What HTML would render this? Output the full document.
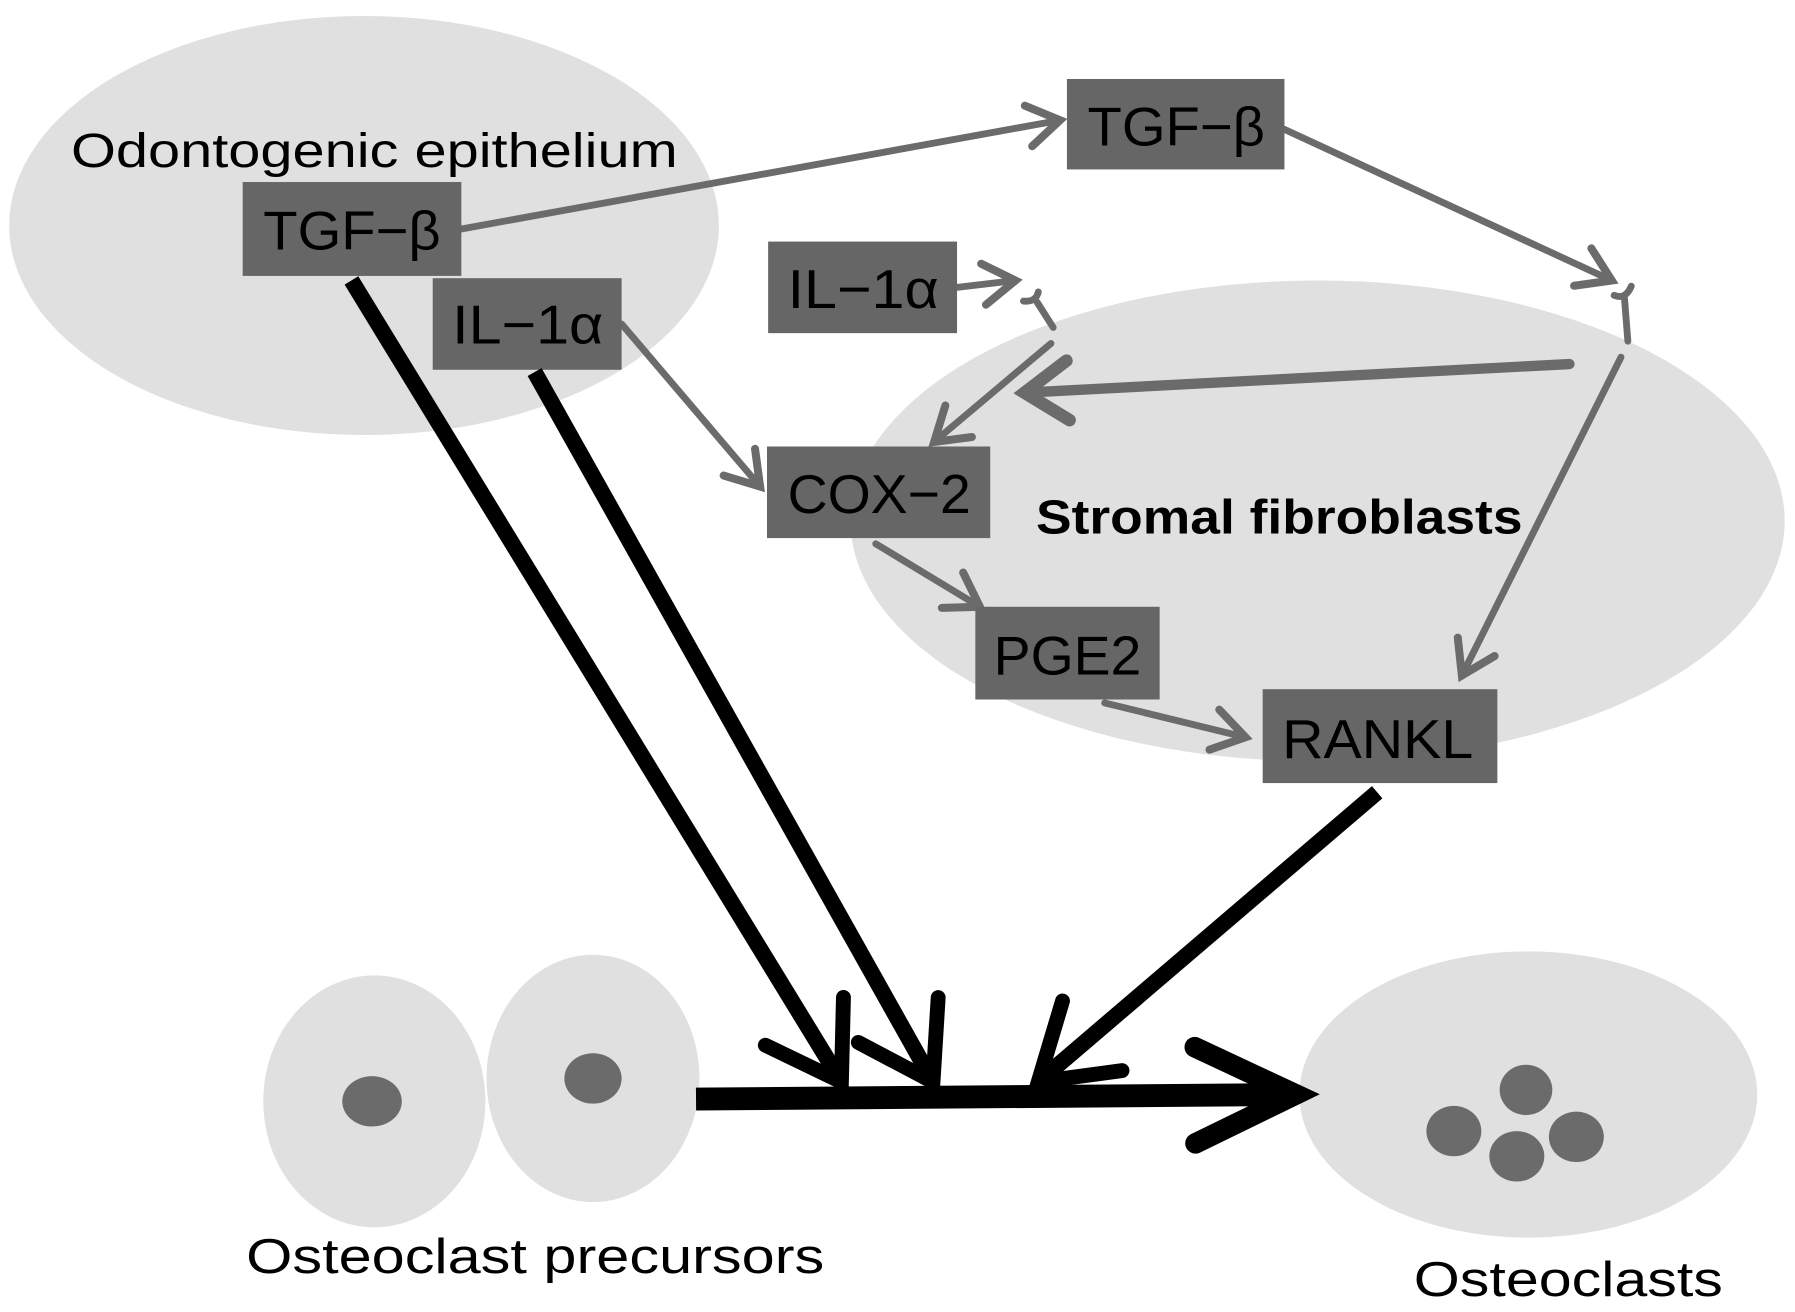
<!DOCTYPE html>
<html><head><meta charset="utf-8"><style>
html,body{margin:0;padding:0;background:#fff}
svg{display:block}
text{font-family:"Liberation Sans",sans-serif;fill:#000}
</style></head><body>
<svg width="1795" height="1312" viewBox="0 0 1568 1146" preserveAspectRatio="none">
<defs>
<marker id="ga" markerUnits="userSpaceOnUse" viewBox="-40 -30 50 60" refX="0" refY="0" markerWidth="50" markerHeight="60" orient="auto" overflow="visible">
<path d="M-28,-18 L0,0 L-28,18" fill="none" stroke="#6b6b6b" stroke-width="7" stroke-linecap="round" stroke-linejoin="miter"/>
</marker>
<marker id="gb" markerUnits="userSpaceOnUse" viewBox="-60 -40 70 80" refX="0" refY="0" markerWidth="70" markerHeight="80" orient="auto" overflow="visible">
<path d="M-38,-26 L0,0 L-38,26" fill="none" stroke="#6b6b6b" stroke-width="11" stroke-linecap="round"/>
</marker>
<marker id="ba" markerUnits="userSpaceOnUse" viewBox="-90 -60 100 120" refX="0" refY="0" markerWidth="100" markerHeight="120" orient="auto" overflow="visible">
<path d="M-62,-40 L0,0 L-62,40" fill="none" stroke="#000" stroke-width="13" stroke-linecap="round"/>
</marker>
<marker id="bb" markerUnits="userSpaceOnUse" viewBox="-110 -60 120 120" refX="0" refY="0" markerWidth="120" markerHeight="120" orient="auto" overflow="visible">
<path d="M-88,-42 L0,0 L-88,42" fill="none" stroke="#000" stroke-width="18" stroke-linecap="round"/>
</marker>
</defs>
<ellipse cx="318" cy="197" rx="310" ry="183" fill="#e0e0e0"/>
<ellipse cx="1151" cy="455" rx="408" ry="210" fill="#e0e0e0"/>
<ellipse cx="327" cy="962" rx="97" ry="110" fill="#e0e0e0"/>
<ellipse cx="518" cy="942" rx="93" ry="108" fill="#e0e0e0"/>
<ellipse cx="325" cy="962" rx="26" ry="22" fill="#6b6b6b"/>
<ellipse cx="518" cy="942" rx="25" ry="22" fill="#6b6b6b"/>
<ellipse cx="1335" cy="956" rx="200" ry="125" fill="#e0e0e0"/>
<ellipse cx="1333" cy="952" rx="23" ry="22" fill="#6b6b6b"/>
<ellipse cx="1270" cy="988" rx="24" ry="22" fill="#6b6b6b"/>
<ellipse cx="1377" cy="993" rx="24" ry="22" fill="#6b6b6b"/>
<ellipse cx="1325" cy="1010" rx="24" ry="22" fill="#6b6b6b"/>

<text x="62" y="146" font-size="42" textLength="530" lengthAdjust="spacingAndGlyphs">Odontogenic epithelium</text>
<text x="905" y="466" font-size="42" font-weight="bold" textLength="425" lengthAdjust="spacingAndGlyphs">Stromal fibroblasts</text>
<text x="215" y="1112" font-size="43" textLength="505" lengthAdjust="spacingAndGlyphs">Osteoclast precursors</text>
<text x="1235" y="1132" font-size="43" textLength="270" lengthAdjust="spacingAndGlyphs">Osteoclasts</text>

<g stroke="#6b6b6b" stroke-width="6" fill="none" stroke-linecap="round">
<line x1="403" y1="200" x2="926" y2="105" marker-end="url(#ga)"/>
<line x1="1122" y1="113" x2="1408" y2="245" marker-end="url(#ga)"/>
<line x1="836" y1="251" x2="887" y2="245" marker-end="url(#ga)"/>
<line x1="543" y1="283" x2="664" y2="425" marker-end="url(#ga)"/>
<line x1="918" y1="300" x2="816" y2="386" marker-end="url(#ga)"/>
<line x1="765" y1="475" x2="856" y2="530" marker-end="url(#ga)"/>
<line x1="965" y1="614" x2="1088" y2="644" marker-end="url(#ga)"/>
<line x1="1416" y1="312" x2="1277" y2="590" marker-end="url(#ga)"/>
<line x1="1371" y1="318" x2="895" y2="343" stroke-width="9" marker-end="url(#gb)"/>
<path d="M1410,258 Q1420,262 1425,250" stroke-width="6"/>
<line x1="1419" y1="260" x2="1422" y2="298" stroke-width="6"/>
<path d="M894,263 Q905,264 907,255" stroke-width="6"/>
<line x1="906" y1="264" x2="920" y2="286" stroke-width="6"/>
</g>

<g fill="#666">
<rect x="932" y="69" width="190" height="79"/>
<rect x="212" y="159" width="191" height="82"/>
<rect x="378" y="243" width="165" height="80"/>
<rect x="671" y="211" width="165" height="80"/>
<rect x="670" y="390" width="195" height="80"/>
<rect x="852" y="530" width="161" height="81"/>
<rect x="1103" y="602" width="205" height="82"/>
</g>
<g font-size="48" lengthAdjust="spacingAndGlyphs">
<text x="950" y="127" textLength="155" lengthAdjust="spacingAndGlyphs">TGF−β</text>
<text x="230" y="218" textLength="155" lengthAdjust="spacingAndGlyphs">TGF−β</text>
<text x="395" y="300" textLength="132" lengthAdjust="spacingAndGlyphs">IL−1α</text>
<text x="688" y="269" textLength="132" lengthAdjust="spacingAndGlyphs">IL−1α</text>
<text x="688" y="448" textLength="160" lengthAdjust="spacingAndGlyphs">COX−2</text>
<text x="868" y="589" textLength="129" lengthAdjust="spacingAndGlyphs">PGE2</text>
<text x="1120" y="662" textLength="167" lengthAdjust="spacingAndGlyphs">RANKL</text>
</g>

<g stroke="#000" stroke-width="14" fill="none" stroke-linecap="butt">
<line x1="307" y1="245" x2="735" y2="945" marker-end="url(#ba)"/>
<line x1="467" y1="325" x2="815" y2="945" marker-end="url(#ba)"/>
<line x1="1203" y1="692" x2="907" y2="945" marker-end="url(#ba)"/>
<line x1="608" y1="960" x2="1132" y2="956" stroke-width="20" marker-end="url(#bb)"/>
</g>
</svg>
</body></html>
